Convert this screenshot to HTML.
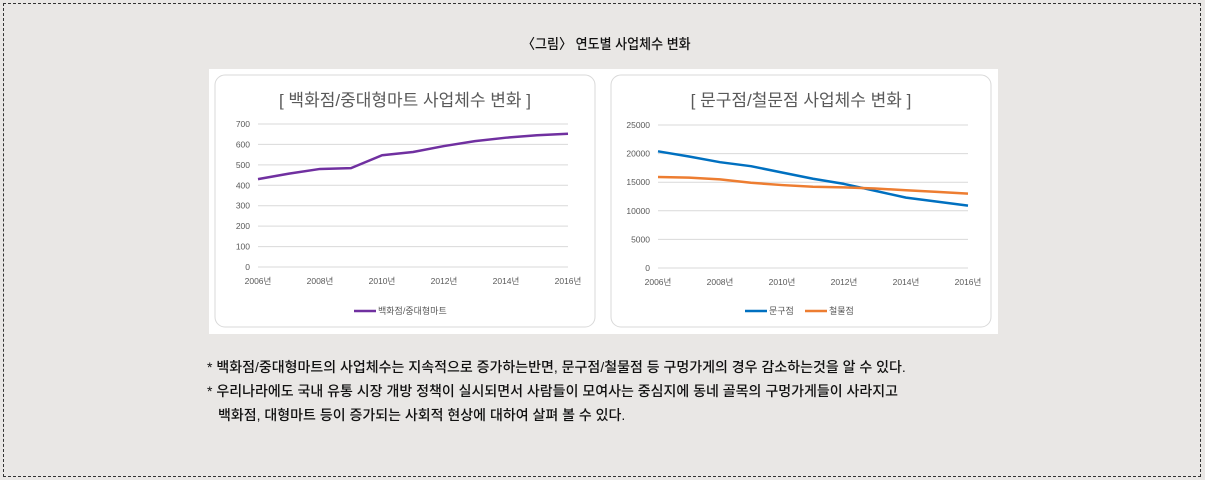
<!DOCTYPE html>
<html><head><meta charset="utf-8">
<style>
body{margin:0;width:1205px;height:480px;background:#e9e7e5;overflow:hidden;font-family:"Liberation Sans","Noto Sans CJK KR",sans-serif;}
#frame{position:absolute;left:3px;top:3px;width:1196px;height:472px;border:1px dashed #333;}
.t{position:absolute;white-space:nowrap;color:#111;}
.note{font-size:14px;letter-spacing:0px;font-weight:500}
</style></head><body>
<div id="frame"></div>
<div class="t" style="left:522px;top:34px;font-size:14px;font-weight:500;transform:scaleX(0.93);transform-origin:0 0;">〈그림〉 연도별 사업체수 변화</div>
<svg id="svg" width="1205" height="480" style="position:absolute;left:0;top:0">
<rect x="209" y="69" width="789" height="265" fill="#fff"/>
</svg>
<div class="t note" style="left:207px;top:357px;">* 백화점/중대형마트의 사업체수는 지속적으로 증가하는반면, 문구점/철물점 등 구멍가게의 경우 감소하는것을 알 수 있다.</div>
<div class="t note" style="left:207px;top:381px;">* 우리나라에도 국내 유통 시장 개방 정책이 실시되면서 사람들이 모여사는 중심지에 동네 골목의 구멍가게들이 사라지고</div>
<div class="t note" style="left:218px;top:405px;">백화점, 대형마트 등이 증가되는 사회적 현상에 대하여 살펴 볼 수 있다.</div>
<script>
const years=[2006,2007,2008,2009,2010,2011,2012,2013,2014,2015,2016];
const xTickLabels=["2006년","2008년","2010년","2012년","2014년","2016년"];
const deptValues=[430,457,480,484,547,563,592,616,633,645,652];
const leftTicks=[0,100,200,300,400,500,600,700];
const stationeryValues=[20400,19500,18500,17800,16700,15600,14700,13500,12300,11600,10900];
const hardwareValues=[15900,15800,15500,14900,14500,14200,14100,13900,13600,13300,13000];
const rightTicks=[0,5000,10000,15000,20000,25000];
const NS="http://www.w3.org/2000/svg";
const svg=document.getElementById('svg');
function el(tag,attrs,text){const e=document.createElementNS(NS,tag);for(const k in attrs)e.setAttribute(k,attrs[k]);if(text!==undefined)e.textContent=text;svg.appendChild(e);return e;}
function chart(cfg){
  const c=el('rect',{x:cfg.bx,y:75,width:380,height:252,rx:10,fill:'#fff',stroke:'#d9d9d9'});
  
  const t=el('text',{x:cfg.bx+190,y:106,'text-anchor':'middle','font-size':17,fill:'#595959'},cfg.title);
  
  const x=y=>cfg.x0+(y-2006)/10*(cfg.x1-cfg.x0);
  const yv=v=>cfg.y0-(v/cfg.max)*(cfg.y0-cfg.yTop);
  cfg.ticks.forEach(v=>{
    const g=el('line',{x1:cfg.x0,x2:cfg.x1,y1:yv(v),y2:yv(v),stroke:'#d9d9d9'});
    
    const l=el('text',{x:cfg.x0-8,y:yv(v)+3,'text-anchor':'end','font-size':8.5,fill:'#595959'},v);
    
  });
  xTickLabels.forEach(s=>{
    const l=el('text',{x:x(parseInt(s)),y:cfg.y0+17,'text-anchor':'middle','font-size':8.5,fill:'#595959'},s);
    
  });
  cfg.series.forEach(s=>{
    const p=el('polyline',{points:s.values.map((v,i)=>x(years[i])+','+yv(v)).join(' '),fill:'none',stroke:s.color,'stroke-width':2.5,'stroke-linejoin':'round'});
    
    const lg=el('line',{x1:s.lx,x2:s.lx+22,y1:311,y2:311,stroke:s.color,'stroke-width':2.5});
    
    const lt=el('text',{x:s.lx+24,y:314,'font-size':9,fill:'#595959'},s.label);
    
  });
}
chart({name:'dept-chart',bx:215,title:'[ 백화점/중대형마트 사업체수 변화 ]',x0:258,x1:568,y0:267,yTop:124,max:700,ticks:leftTicks,
  series:[{name:'dept',values:deptValues,color:'#7030a0',label:'백화점/중대형마트',lx:354}]});
chart({name:'shop-chart',bx:611,title:'[ 문구점/철문점 사업체수 변화 ]',x0:658,x1:968,y0:268,yTop:125,max:25000,ticks:rightTicks,
  series:[{name:'stationery',values:stationeryValues,color:'#0070c0',label:'문구점',lx:745},
          {name:'hardware',values:hardwareValues,color:'#ed7d31',label:'철물점',lx:805}]});
</script>
</body></html>
